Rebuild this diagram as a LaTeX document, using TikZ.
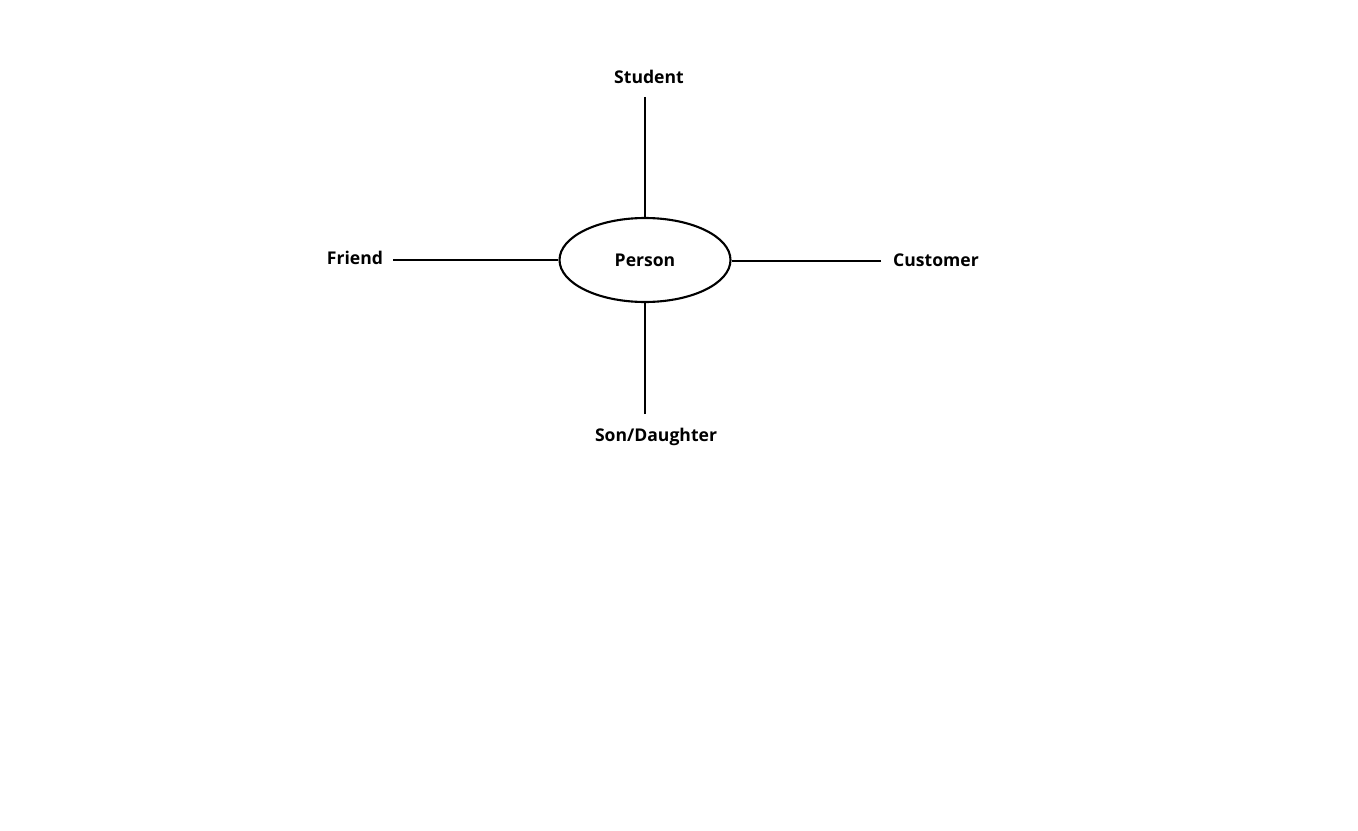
\documentclass[tikz,border=0pt]{standalone}
\usepackage{fontspec}
\setmainfont{Open Sans}
\usepackage{tikz}
\usetikzlibrary{positioning,shapes.geometric}

\begin{document}
\begin{tikzpicture}[x=0.02cm, y=-0.02cm,
        rolenode/.style={font=\bfseries\fontsize{10}{12}\selectfont, inner sep=0pt},
        personnode/.style={ellipse, draw, line width=1.2pt, minimum width=3.42cm, minimum height=1.68cm, inner sep=0pt, font=\bfseries\fontsize{10}{12}\selectfont},
        link/.style={line width=1.2pt}]

        \useasboundingbox (0,0) rectangle (1358,831);

        \node[personnode] (person) at (645,260) {Person};

        \node[rolenode] (student) at (649,77) {Student};
        \node[rolenode] (friend) at (355,258) {Friend};
        \node[rolenode] (customer) at (936,260) {Customer};
        \node[rolenode] (son) at (656,437) {Son/Daughter};

        \coordinate (s1) at (645,97);
        \coordinate (f1) at (393,260);
        \coordinate (c1) at (881,261);
        \coordinate (d1) at (645,414);

        \draw[link] (s1) -- (person.north);
        \draw[link] (f1) -- (person.west);
        \draw[link] (c1) -- (person.east |- c1);
        \draw[link] (d1) -- (person.south);

        \end{tikzpicture}
\end{document}
